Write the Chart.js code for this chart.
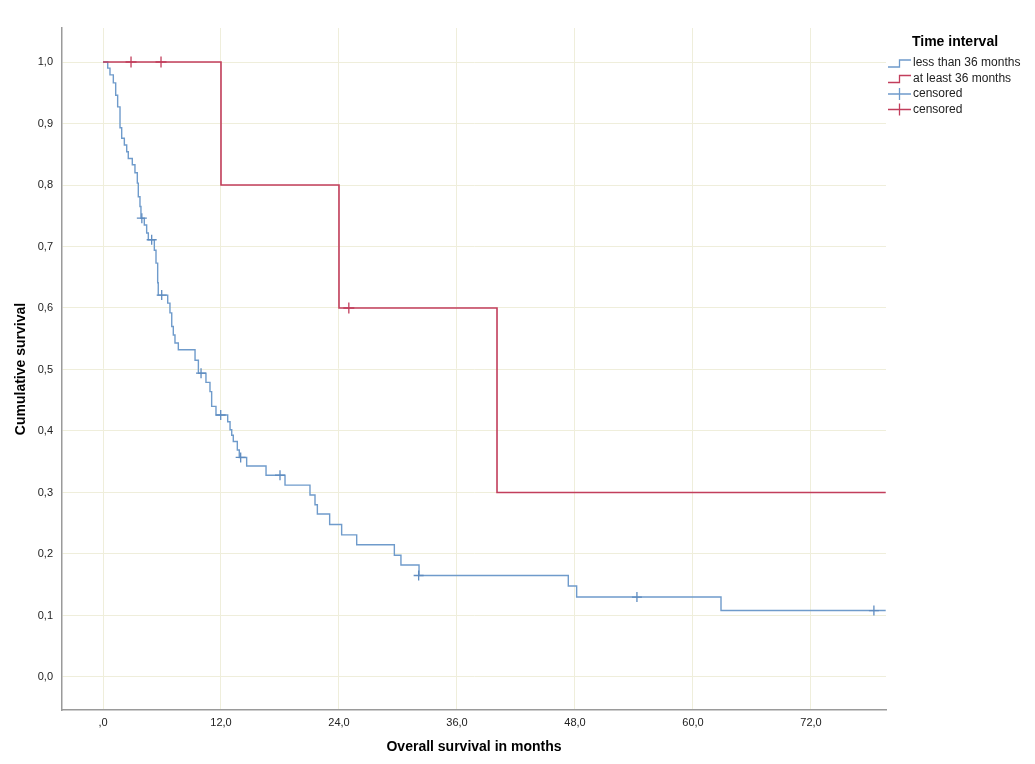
<!DOCTYPE html>
<html>
<head>
<meta charset="utf-8">
<script src="https://cdn.jsdelivr.net/npm/chart.js@4/dist/chart.umd.min.js"></script>
<style>
  body { margin: 0; background: #fff; }
  #wrap { width: 1035px; height: 764px; }
</style>
</head>
<body>
<div id="wrap"><canvas id="km"></canvas></div>
<script>
// Kaplan-Meier steps: months / cumulative survival
const shortTimes = [0, 0.48, 0.71, 1.05, 1.29, 1.49, 1.73, 1.90, 2.17, 2.41, 2.57, 2.98, 3.25, 3.49, 3.59, 3.76, 3.86,
  4.20, 4.44, 4.61, 5.22, 5.39, 5.56, 5.62, 6.58, 6.81, 6.99, 7.15, 7.32, 7.66, 9.36, 9.70, 10.47, 10.88, 11.05,
  11.49, 12.68, 12.92, 13.09, 13.25, 13.66, 13.86, 14.61, 16.58, 18.51, 21.05, 21.56, 21.80, 23.05, 24.27, 25.80,
  29.63, 30.30, 32.14, 47.32, 48.17, 62.85, 79.6];
const shortSurv = [1.0, 0.990, 0.979, 0.966, 0.946, 0.927, 0.893, 0.876, 0.865, 0.854, 0.843, 0.833, 0.820, 0.803, 0.781, 0.765, 0.746,
  0.735, 0.722, 0.711, 0.694, 0.673, 0.641, 0.621, 0.608, 0.592, 0.570, 0.556, 0.543, 0.532, 0.515, 0.494, 0.479, 0.464, 0.440,
  0.426, 0.415, 0.402, 0.393, 0.383, 0.369, 0.357, 0.343, 0.328, 0.312, 0.296, 0.280, 0.265, 0.248, 0.231, 0.215,
  0.198, 0.182, 0.165, 0.148, 0.130, 0.108, 0.108];
const shortCensorT = [3.95, 4.95, 5.97, 9.97, 11.97, 14.0, 18.0, 32.1, 54.3, 78.4];
const shortCensorS = [0.746, 0.711, 0.621, 0.494, 0.426, 0.357, 0.328, 0.165, 0.130, 0.108];

const longTimes = [0, 12.0, 24.0, 40.07, 79.6];
const longSurv = [1.0, 0.8, 0.6, 0.3, 0.3];
const longCensorT = [2.85, 5.9, 25.0];
const longCensorS = [1.0, 1.0, 0.6];

const xTicks = [0, 12, 24, 36, 48, 60, 72];
const xTickLabels = [',0', '12,0', '24,0', '36,0', '48,0', '60,0', '72,0'];
const yTicks = [0, 0.1, 0.2, 0.3, 0.4, 0.5, 0.6, 0.7, 0.8, 0.9, 1.0];
const yTickLabels = ['0,0', '0,1', '0,2', '0,3', '0,4', '0,5', '0,6', '0,7', '0,8', '0,9', '1,0'];

const legendLabels = ['less than 36 months', 'at least 36 months', 'censored', 'censored'];

const BLUE = '#6f9bcb';
const RED = '#c23e5c';
const FONT = '"Liberation Sans", Arial, sans-serif';

const pts = (xs, ys) => xs.map((x, i) => ({ x: x, y: ys[i] }));

const kmLegend = {
  id: 'kmLegend',
  afterDraw(chart) {
    const ctx = chart.ctx;
    ctx.save();
    ctx.fillStyle = '#000';
    ctx.font = 'bold 14px ' + FONT;
    ctx.textAlign = 'center';
    ctx.textBaseline = 'middle';
    ctx.fillText('Time interval', 955, 42);
    ctx.font = '12px ' + FONT;
    ctx.textAlign = 'left';
    const cols = [BLUE, RED, BLUE, RED];
    legendLabels.forEach((lab, i) => {
      const y = 63 + i * 15.5;
      ctx.strokeStyle = cols[i];
      ctx.lineWidth = 1.3;
      ctx.beginPath();
      if (i < 2) {
        ctx.moveTo(888, y + 4); ctx.lineTo(899.5, y + 4);
        ctx.lineTo(899.5, y - 3); ctx.lineTo(911, y - 3);
      } else {
        ctx.moveTo(888, y); ctx.lineTo(911, y);
        ctx.moveTo(899.5, y - 6); ctx.lineTo(899.5, y + 6);
      }
      ctx.stroke();
      ctx.fillStyle = '#222';
      ctx.fillText(lab, 913, y);
    });
    ctx.restore();
  }
};

new Chart(document.getElementById('km'), {
  type: 'line',
  data: {
    datasets: [
      {
        type: 'scatter', data: pts(longCensorT, longCensorS), showLine: false,
        pointStyle: 'cross', pointRadius: 5.5, borderColor: RED, borderWidth: 1.3
      },
      {
        data: pts(longTimes, longSurv), stepped: 'before',
        borderColor: RED, borderWidth: 1.6, pointRadius: 0, fill: false
      },
      {
        type: 'scatter', data: pts(shortCensorT, shortCensorS), showLine: false,
        pointStyle: 'cross', pointRadius: 5, borderColor: '#5f8cc0', borderWidth: 1.3
      },
      {
        data: pts(shortTimes, shortSurv), stepped: 'before',
        borderColor: BLUE, borderWidth: 1.4, pointRadius: 0, fill: false
      }
    ]
  },
  options: {
    responsive: true,
    maintainAspectRatio: false,
    animation: false,
    events: [],
    layout: { padding: { left: 0, top: 28, right: 149, bottom: 0 } },
    plugins: { legend: { display: false }, tooltip: { enabled: false } },
    scales: {
      x: {
        type: 'linear', min: -4.17, max: 79.63,
        afterBuildTicks: (s) => { s.ticks = xTicks.map(v => ({ value: v })); },
        afterFit: (s) => { s.height = 54; },
        ticks: {
          padding: 6, color: '#222', font: { size: 11, family: FONT },
          callback: (v) => xTickLabels[xTicks.indexOf(v)]
        },
        grid: { color: '#efeedb', lineWidth: 1, drawTicks: false },
        border: { color: '#9a9a9a', width: 1.5 },
        title: {
          display: true, text: 'Overall survival in months', color: '#000',
          font: { size: 14, weight: 'bold', family: FONT }, padding: { top: 0, bottom: 8 }
        }
      },
      y: {
        type: 'linear', min: -0.0537, max: 1.0553,
        afterBuildTicks: (s) => { s.ticks = yTicks.map(v => ({ value: v })); },
        afterFit: (s) => { s.width = 62; },
        ticks: {
          padding: 9, color: '#222', font: { size: 11, family: FONT },
          callback: (v) => yTickLabels[yTicks.indexOf(v)]
        },
        grid: { color: '#efeedb', lineWidth: 1, drawTicks: false },
        border: { color: '#9a9a9a', width: 1.5 },
        title: {
          display: true, text: 'Cumulative survival', color: '#000',
          font: { size: 14, weight: 'bold', family: FONT }, padding: { top: 13, bottom: 0 }
        }
      }
    }
  },
  plugins: [kmLegend]
});
</script>
</body>
</html>
